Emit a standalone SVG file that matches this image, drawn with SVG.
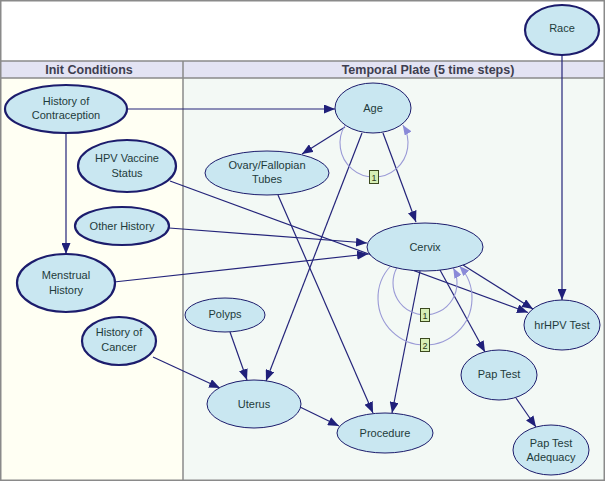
<svg xmlns="http://www.w3.org/2000/svg" width="605" height="481" viewBox="0 0 605 481">
<style>
.frame{stroke:#8a8a8a;stroke-width:1.5}
.hdr{font-family:"Liberation Sans",Arial,sans-serif;font-size:12.5px;font-weight:bold;fill:#3e3e50;text-anchor:middle}
.n ellipse{fill:#c9e7f1;stroke:#1c1c6c;stroke-width:1}
.n.init ellipse{stroke-width:2.2}
.n text{font-family:"Liberation Sans",Arial,sans-serif;font-size:11px;fill:#1e3b3b;text-anchor:middle}
.e{fill:none;stroke:#24247a;stroke-width:1.2;marker-end:url(#ah)}
.loop{fill:none;stroke:#9a9ad6;stroke-width:1.1;marker-end:url(#lh)}
.tag rect{fill:#d6efb4;stroke:#3c4a20;stroke-width:1}
.tag text{font-family:"Liberation Sans",Arial,sans-serif;font-size:9px;fill:#2a3a1a;text-anchor:middle}
</style>
<defs>
<marker id="ah" markerUnits="userSpaceOnUse" markerWidth="11" markerHeight="9" refX="11" refY="4.5" orient="auto"><path d="M0,0 L11,4.5 L0,9 z" fill="#20207a"/></marker>
<marker id="lh" markerUnits="userSpaceOnUse" markerWidth="10" markerHeight="8" refX="10" refY="4" orient="auto"><path d="M0,0 L10,4 L0,8 z" fill="#8a8ad8"/></marker>
</defs>
<rect x="0" y="0" width="605" height="481" fill="#ffffff"/>
<rect x="1" y="78" width="182" height="402" fill="#fffff3"/>
<rect x="183" y="78" width="421" height="402" fill="#f3f9f5"/>
<rect x="1" y="61" width="603" height="17" fill="#e3e3f3"/>
<g class="frame" fill="none">
<rect x="0.75" y="0.75" width="603.5" height="479.5"/>
<line x1="1" y1="61" x2="604" y2="61"/>
<line x1="1" y1="78" x2="604" y2="78"/>
<line x1="183" y1="61" x2="183" y2="480"/>
</g>
<text class="hdr" x="89" y="74">Init Conditions</text>
<text class="hdr" x="428" y="74">Temporal Plate (5 time steps)</text>
<g id="connectors">
<path class="e" d="M127,109 L335,109"/>
<path class="e" d="M66,134 L66,254"/>
<path class="e" d="M170,181 L528,312.5"/>
<path class="e" d="M345,127 L302,154"/>
<path class="e" d="M383,133 L416,222"/>
<path class="e" d="M362,133 L266,381"/>
<path class="e" d="M278,195 L373,413"/>
<path class="e" d="M420,271 L392,413"/>
<path class="e" d="M440,270 L485,352"/>
<path class="e" d="M230,332 L247,380"/>
<path class="e" d="M153,357 L220,388"/>
<path class="e" d="M300,407 L339,426"/>
<path class="e" d="M516,398 L536,427"/>
<path class="e" d="M562,55 L562,300"/>
<path class="e" d="M169,228 L367,243"/>
<path class="e" d="M114,282 L368,254"/>
<path class="e" d="M463,265 L533,309"/>
<path class="loop" d="M345.2,125 A34,34 0 1 0 402.8,125"/>
<path class="loop" d="M396.7,268 A32,32 0 1 0 453.3,268"/>
<path class="loop" d="M390.6,266 A47,47 0 1 0 459.4,266"/>
</g>
<g id="race" class="n init"><ellipse cx="562" cy="30" rx="37" ry="25"/><text x="562" y="32">Race</text></g>
<g id="history-of-contraception" class="n init"><ellipse cx="66" cy="109" rx="61" ry="24"/><text x="66" y="105">History of</text><text x="66" y="119">Contraception</text></g>
<g id="hpv-vaccine-status" class="n init"><ellipse cx="127" cy="166" rx="49" ry="26"/><text x="127" y="162">HPV Vaccine</text><text x="127" y="177">Status</text></g>
<g id="other-history" class="n init"><ellipse cx="122" cy="226" rx="47" ry="19"/><text x="122" y="230">Other History</text></g>
<g id="menstrual-history" class="n init"><ellipse cx="66" cy="283" rx="49" ry="29"/><text x="66" y="279">Menstrual</text><text x="66" y="294">History</text></g>
<g id="history-of-cancer" class="n init"><ellipse cx="119" cy="341" rx="37" ry="24"/><text x="119" y="336">History of</text><text x="119" y="351">Cancer</text></g>
<g id="age" class="n"><ellipse cx="373" cy="108" rx="38" ry="25"/><text x="373" y="112">Age</text></g>
<g id="ovary-fallopian-tubes" class="n"><ellipse cx="267" cy="173" rx="62" ry="22"/><text x="267" y="169">Ovary/Fallopian</text><text x="267" y="183">Tubes</text></g>
<g id="cervix" class="n"><ellipse cx="425" cy="247" rx="58" ry="24"/><text x="425" y="251">Cervix</text></g>
<g id="hrhpv-test" class="n"><ellipse cx="562" cy="325" rx="38" ry="25"/><text x="562" y="329">hrHPV Test</text></g>
<g id="polyps" class="n"><ellipse cx="225" cy="315" rx="40" ry="17"/><text x="225" y="318">Polyps</text></g>
<g id="uterus" class="n"><ellipse cx="254" cy="404" rx="47" ry="24"/><text x="254" y="408">Uterus</text></g>
<g id="procedure" class="n"><ellipse cx="385" cy="433" rx="48" ry="20"/><text x="385" y="437">Procedure</text></g>
<g id="pap-test" class="n"><ellipse cx="499" cy="375" rx="38" ry="25"/><text x="499" y="378">Pap Test</text></g>
<g id="pap-test-adequacy" class="n"><ellipse cx="551" cy="450" rx="38" ry="25"/><text x="551" y="447">Pap Test</text><text x="551" y="461">Adequacy</text></g>
<g id="tag-age-1" class="tag"><rect x="369.5" y="170.5" width="9" height="13"/><text x="374" y="180.5">1</text></g>
<g id="tag-cervix-1" class="tag"><rect x="420.5" y="308.5" width="9" height="13"/><text x="425" y="318.5">1</text></g>
<g id="tag-cervix-2" class="tag"><rect x="420.5" y="338.5" width="9" height="13"/><text x="425" y="348.5">2</text></g>
</svg>
